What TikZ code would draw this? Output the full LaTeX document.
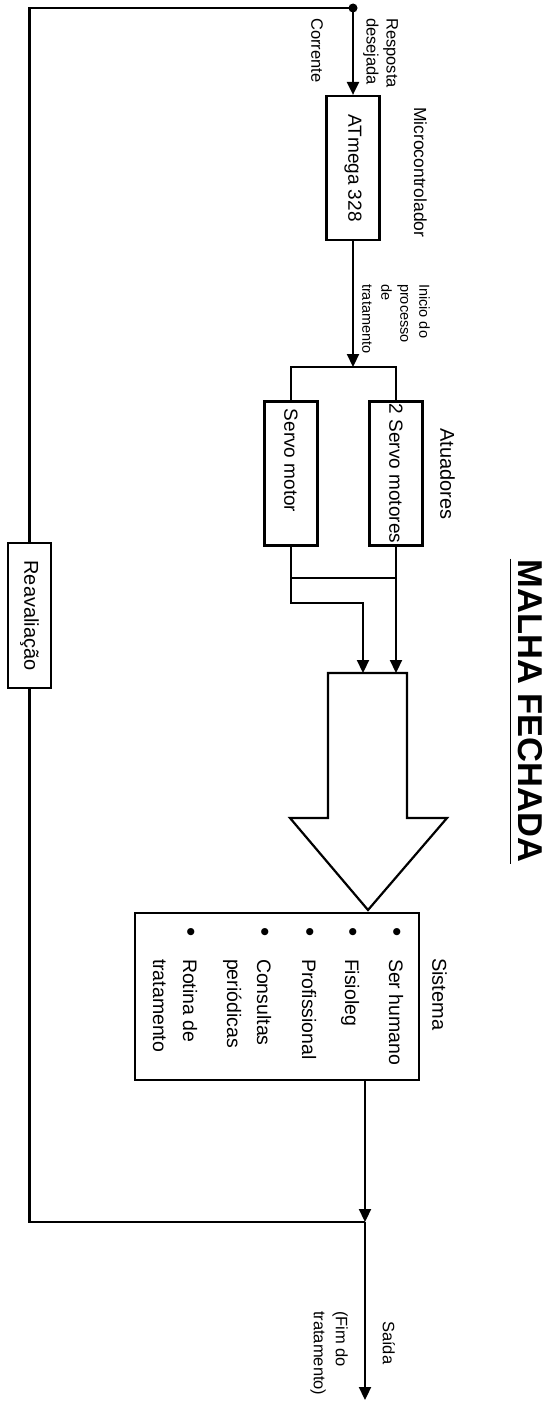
\documentclass[tikz,border=0pt]{standalone}
\usepackage{fontspec}
\setmainfont{Liberation Sans}
\usepackage{graphicx}
\usetikzlibrary{positioning,arrows.meta,calc}

\newcommand{\vtext}[1]{\rotatebox{-90}{#1}}
\newcommand{\itemdot}{\raisebox{-1pt}{\scalebox{1.35}{\textbullet}}}

\begin{document}
\begin{tikzpicture}[
    x=1pt, y=-1pt,
    line width=2.2pt,
    vbox/.style={draw, inner sep=0pt, minimum width=53pt, minimum height=144pt, font=\fontsize{19}{23}\selectfont},
    lbl/.style={rotate=-90, anchor=north west, inner sep=0pt, align=left, font=\fontsize{16.5}{20}\selectfont},
    arrow/.style={-{Triangle[length=13pt, width=12pt]}}
]
\useasboundingbox (0,0) rectangle (552,1402);

% blocos
\node[vbox] (atmega) at (353,168) {\vtext{ATmega 328}};
\node[vbox] (servo) at (291,473.5) {\vtext{Servo motor\hspace{26pt}}};
\node[vbox] (servos) at (396,473.5) {\vtext{2 Servo motores}};
\node[vbox, minimum width=43pt, minimum height=145pt, font=\fontsize{20}{24}\selectfont] (reav) at (29.5,615.5) {\vtext{Reavaliação}};
\node[draw, inner sep=0pt, minimum width=284pt, minimum height=167pt] (sys) at (277,996.5) {\vtext{\fontsize{19.5}{30}\selectfont
  \begin{tabular}{@{}l@{\hspace{22pt}}l@{}}
  \itemdot & Ser humano\\[14pt]
  \itemdot & Fisioleg\\[13pt]
  \itemdot & Profissional\\[15pt]
  \itemdot & Consultas\\
           & periódicas\\[14pt]
  \itemdot & Rotina de\\
           & tratamento
  \end{tabular}}};

% titulo e rotulos
\node[rotate=-90, inner sep=0pt, font=\bfseries\fontsize{34.5}{40}\selectfont] (title) at (530,711) {MALHA FECHADA};
\draw[line width=1.6pt] ([xshift=-6pt]title.south west) -- ([xshift=-6pt]title.south east);
\node[lbl] (resp) at (399,17) {Resposta\\desejada};
\node[lbl] (corr) at (324,17) {Corrente};
\node[lbl, font=\fontsize{17.5}{21}\selectfont] (micro) at (428,106) {Microcontrolador};
\node[lbl, font=\fontsize{14.5}{19}\selectfont] (inicio) at (431,283) {Inicio do\\processo\\de\\tratamento};
\node[lbl, font=\fontsize{20}{24}\selectfont] (atu) at (456,427) {Atuadores};
\node[lbl, font=\fontsize{20}{24}\selectfont] (sist) at (448,957) {Sistema};
\node[lbl] (saida) at (396,1320) {Saída};
\node[lbl, font=\fontsize{16.5}{22}\selectfont] (fim) at (349,1310) {(Fim do\\tratamento)};

% pontos de ligacao
\coordinate (ref) at (353,8);
\coordinate (split) at (353,367);
\coordinate (merge) at (396,578);
\coordinate (bend) at (363,603);
\coordinate (inA) at (363,673);
\coordinate (inB) at (396,673);
\coordinate (out) at (365,1222);
\coordinate (end) at (365,1400);

% seta larga
\draw (328,673) -- (328,818) -- (290,818) -- (368,910) -- (447,818) -- (407,818) -- (407,673) -- cycle;

% ligacoes
\fill (ref) circle (4.5pt);
\draw[arrow] (ref) -- (atmega.north);
\draw[arrow] (atmega.south) -- (split);
\draw (servo.north) |- (split) -| (servos.north);
\draw (servo.south) |- (merge);
\draw[arrow] (servo.south) |- (bend) -- (inA);
\draw[arrow] (servos.south) -- (inB);
\draw[arrow] (out |- sys.south) -- (out);
\draw[arrow] (out) -- (end);
\draw (out) -| (reav.south);
\draw (reav.north) |- (ref);
\end{tikzpicture}
\end{document}
